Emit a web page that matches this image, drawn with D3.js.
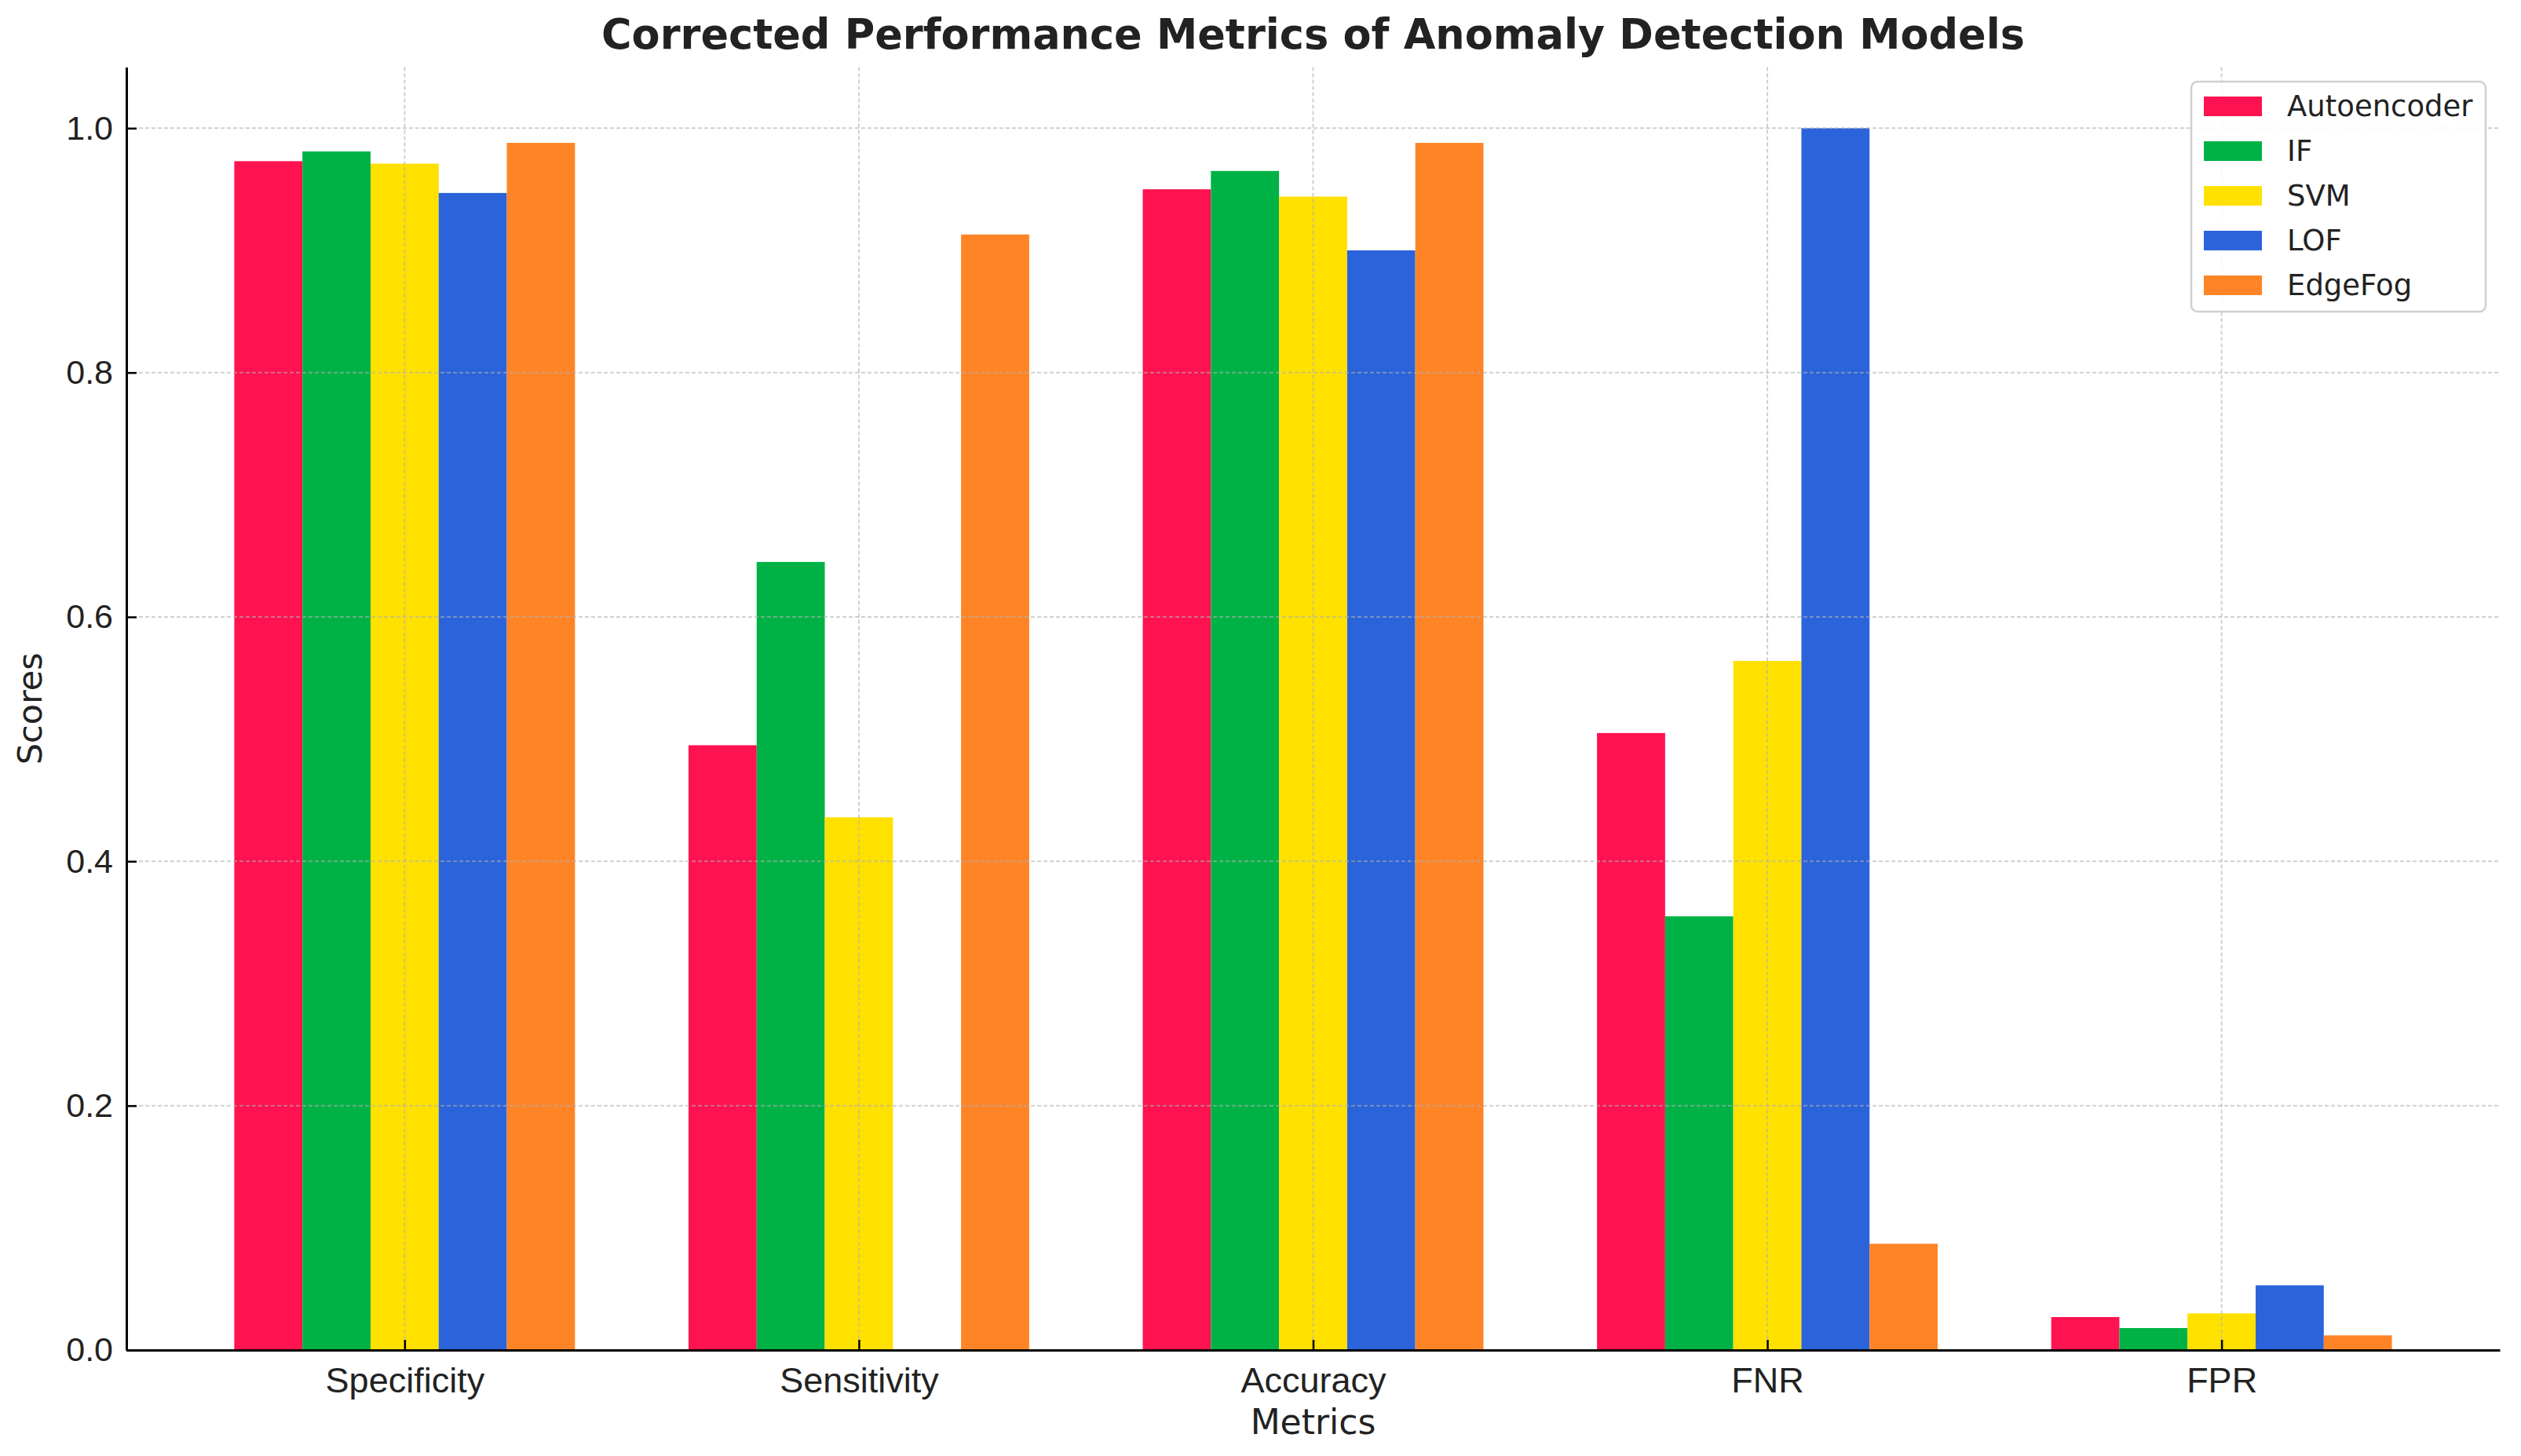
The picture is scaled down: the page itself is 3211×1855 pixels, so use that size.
<!DOCTYPE html>
<html>
<head>
<meta charset="utf-8">
<script src="https://cdn.jsdelivr.net/npm/d3@7"></script>
<style>
  body { margin: 0; background: #fff; }
  svg { display: block; font-family: "DejaVu Sans", sans-serif; }
  .grid line { stroke: #b0b0b0; stroke-opacity: 0.6; stroke-width: 2; stroke-dasharray: 5,3; }
  .axis path, .axis line { stroke: #000; }
  .axis text { fill: #222; }
</style>
</head>
<body>
<svg width="3211" height="1855"></svg>
<script>
// values
const metrics = ["Specificity", "Sensitivity", "Accuracy", "FNR", "FPR"];
const models  = ["Autoencoder", "IF", "SVM", "LOF", "EdgeFog"];
const colors  = ["#ff1250", "#00b245", "#ffe100", "#2b63db", "#ff8426"];

const autoencoder = [0.973, 0.495, 0.950, 0.505, 0.027];
const isoForest   = [0.981, 0.645, 0.965, 0.355, 0.018];
const svmScores   = [0.971, 0.436, 0.944, 0.564, 0.030];
const lofScores   = [0.947, 0.000, 0.900, 1.000, 0.053];
const edgeFog     = [0.988, 0.913, 0.988, 0.087, 0.012];

const yTicks = [0, 0.2, 0.4, 0.6, 0.8, 1.0];

const series = [autoencoder, isoForest, svmScores, lofScores, edgeFog];

const svg = d3.select("svg");

const plot = {left: 161, right: 3184, top: 85.5, bottom: 1720};
const barWidth = 0.15;

// categories sit at 0..4, bars offset around them like matplotlib
const x = d3.scaleLinear()
  .domain([-0.6125, 4.6125])
  .range([plot.left, plot.right]);

const y = d3.scaleLinear()
  .domain([0, 1.05])
  .range([plot.bottom, plot.top]);

// bars
series.forEach(function(values, s) {
  svg.append("g")
    .attr("fill", colors[s])
    .selectAll("rect")
    .data(values)
    .enter()
    .append("rect")
    .attr("x", (d, i) => x(i + (s - 2.5) * barWidth))
    .attr("width", x(barWidth) - x(0))
    .attr("y", d => y(d))
    .attr("height", d => y(0) - y(d));
});

// grid drawn over the bars, faint
const grid = svg.append("g").attr("class", "grid");

grid.selectAll("line.h")
  .data(yTicks)
  .enter()
  .append("line")
  .attr("x1", plot.left).attr("x2", plot.right)
  .attr("y1", d => y(d)).attr("y2", d => y(d));

grid.selectAll("line.v")
  .data(metrics.map((m, i) => i))
  .enter()
  .append("line")
  .attr("y1", plot.top).attr("y2", plot.bottom)
  .attr("x1", d => x(d)).attr("x2", d => x(d));

// axes with ticks pointing inward
const xAxis = svg.append("g")
  .attr("class", "axis")
  .attr("transform", `translate(0,${plot.bottom})`)
  .call(d3.axisBottom(x)
    .tickValues(metrics.map((m, i) => i))
    .tickFormat(i => metrics[i])
    .tickSizeInner(-13)
    .tickSizeOuter(0)
    .tickPadding(22));

xAxis.select(".domain").attr("stroke-width", 3);
xAxis.selectAll(".tick line").attr("stroke-width", 2.5);
xAxis.selectAll("text").attr("font-size", 45);

const yAxis = svg.append("g")
  .attr("class", "axis")
  .attr("transform", `translate(${plot.left},0)`)
  .call(d3.axisLeft(y)
    .tickValues(yTicks)
    .tickFormat(d3.format(".1f"))
    .tickSizeInner(-13)
    .tickSizeOuter(0)
    .tickPadding(17));

yAxis.select(".domain").attr("stroke-width", 3);
yAxis.selectAll(".tick line").attr("stroke-width", 2.5);
yAxis.selectAll("text").attr("font-size", 43);

// labels
svg.append("text")
  .attr("x", (plot.left + plot.right) / 2)
  .attr("y", 62)
  .attr("text-anchor", "middle")
  .attr("font-size", 52.5)
  .attr("font-weight", "bold")
  .attr("fill", "#222")
  .text("Corrected Performance Metrics of Anomaly Detection Models");

svg.append("text")
  .attr("x", (plot.left + plot.right) / 2)
  .attr("y", 1827)
  .attr("text-anchor", "middle")
  .attr("font-size", 44)
  .attr("fill", "#222")
  .text("Metrics");

svg.append("text")
  .attr("transform", `translate(53,${(plot.top + plot.bottom) / 2}) rotate(-90)`)
  .attr("text-anchor", "middle")
  .attr("font-size", 43)
  .attr("fill", "#222")
  .text("Scores");

// legend
const legend = svg.append("g").attr("transform", "translate(2791,104)");

legend.append("rect")
  .attr("width", 375)
  .attr("height", 293)
  .attr("rx", 8)
  .attr("fill", "#fff")
  .attr("fill-opacity", 0.85)
  .attr("stroke", "#d0d0d0")
  .attr("stroke-width", 2.5);

const items = legend.selectAll("g.item")
  .data(models)
  .enter()
  .append("g")
  .attr("transform", (d, i) => `translate(0,${31.5 + i * 57})`);

items.append("rect")
  .attr("x", 16)
  .attr("y", -12.5)
  .attr("width", 74)
  .attr("height", 25)
  .attr("fill", (d, i) => colors[i]);

items.append("text")
  .attr("x", 122)
  .attr("dy", "0.35em")
  .attr("font-size", 37)
  .attr("fill", "#222")
  .text(d => d);
</script>
</body>
</html>
